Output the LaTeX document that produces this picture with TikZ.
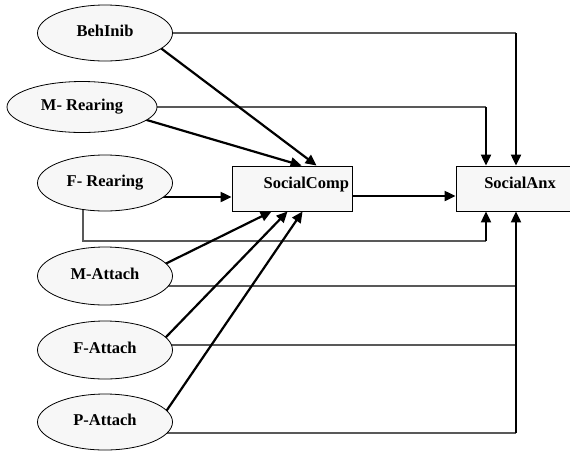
\documentclass[tikz,border=0pt]{standalone}
\usepackage{fontspec}
\setmainfont{Liberation Serif}
\usetikzlibrary{arrows.meta,shapes.geometric,calc,backgrounds}
\begin{document}
\begin{tikzpicture}[x=1pt,y=-1pt,
  every node/.style={font=\fontsize{16.5}{18}\selectfont\bfseries},
  var/.style={ellipse,draw,line width=0.8pt,fill=gray!6,minimum width=135pt,minimum height=56pt,inner sep=1pt,text height=11pt,text depth=5pt},
  box/.style={rectangle,draw,line width=0.9pt,fill=gray!6,minimum height=45pt,inner sep=3pt,text height=11.5pt,text depth=12pt},
  tline/.style={line width=1.3pt,black!65},
  vline/.style={line width=2.2pt,-{Triangle[length=11pt,width=10pt]}},
  arr/.style={line width=2.2pt,-{Triangle[length=11pt,width=10pt]}}
]
\useasboundingbox (0,0) rectangle (570,451);

\node[var] (beh) at (105,33) {BehInib};
\node[var,minimum width=150pt,minimum height=51pt] (mrear) at (82,107) {M- Rearing};
\node[var] (frear) at (105,183) {F- Rearing};
\node[var,minimum height=58pt] (matt) at (105,276) {M-Attach};
\node[var,minimum height=58pt] (fatt) at (105,350) {F-Attach};
\node[var] (patt) at (105,422) {P-Attach};

\node[box,text width=114pt,align=right] (comp) at (292,188.5) {SocialComp};
\node[box,minimum width=128pt] (anx) at (520,188.5) {SocialAnx};

\coordinate (aTopL) at ($(anx.north)+(-34,0)$);
\coordinate (aTopR) at ($(anx.north)+(-4,0)$);
\coordinate (aBotL) at ($(anx.south)+(-34,0)$);
\coordinate (aBotR) at ($(anx.south)+(-4,0)$);
\coordinate (frc) at ($(frear)+(-22,58)$);
\coordinate (mac) at ($(matt)+(0,10)$);
\coordinate (fac) at ($(fatt)+(0,-5)$);
\coordinate (pac) at ($(patt)+(0,11)$);

\begin{pgfonlayer}{background}
  % paths to SocialAnx
  \draw[tline] (beh.center) -- (beh.center -| aTopR);
  \draw[vline] (beh.center -| aTopR) -- (aTopR);
  \draw[tline] (mrear.center) -- (mrear.center -| aTopL);
  \draw[vline] (mrear.center -| aTopL) -- (aTopL);
  \draw[tline] ($(frear)+(-22,0)$) -- (frc) -- (frc -| aBotL);
  \draw[vline] (frc -| aBotL) -- (aBotL);
  \draw[tline] (mac) -- (mac -| aBotR);
  \draw[tline] (fac) -- (fac -| aBotR);
  \draw[tline] (pac) -- (pac -| aBotR);
  \draw[vline] (pac -| aBotR) -- (aBotR);
  % paths to SocialComp
  \draw[arr] ($(beh)+(45,7)$) -- ($(comp.north west)+(85,0)$);
  \draw[arr] ($(mrear)+(58,11)$) -- ($(comp.north west)+(70,0)$);
  \draw[arr] ($(frear)+(0,14)$) -- ($(comp.west)+(0,8.5)$);
  \draw[arr] ($(matt)+(45,-4.6)$) -- ($(comp.south west)+(40,0)$);
  \draw[arr] ($(fatt)+(45,3.6)$) -- ($(comp.south west)+(56,0)$);
  \draw[arr] ($(patt)+(45,12.9)$) -- ($(comp.south west)+(71,0)$);
  % SocialComp to SocialAnx
  \draw[arr] ($(comp.east)+(0,7.5)$) -- ($(anx.west)+(0,7.5)$);
\end{pgfonlayer}
\end{tikzpicture}
\end{document}
